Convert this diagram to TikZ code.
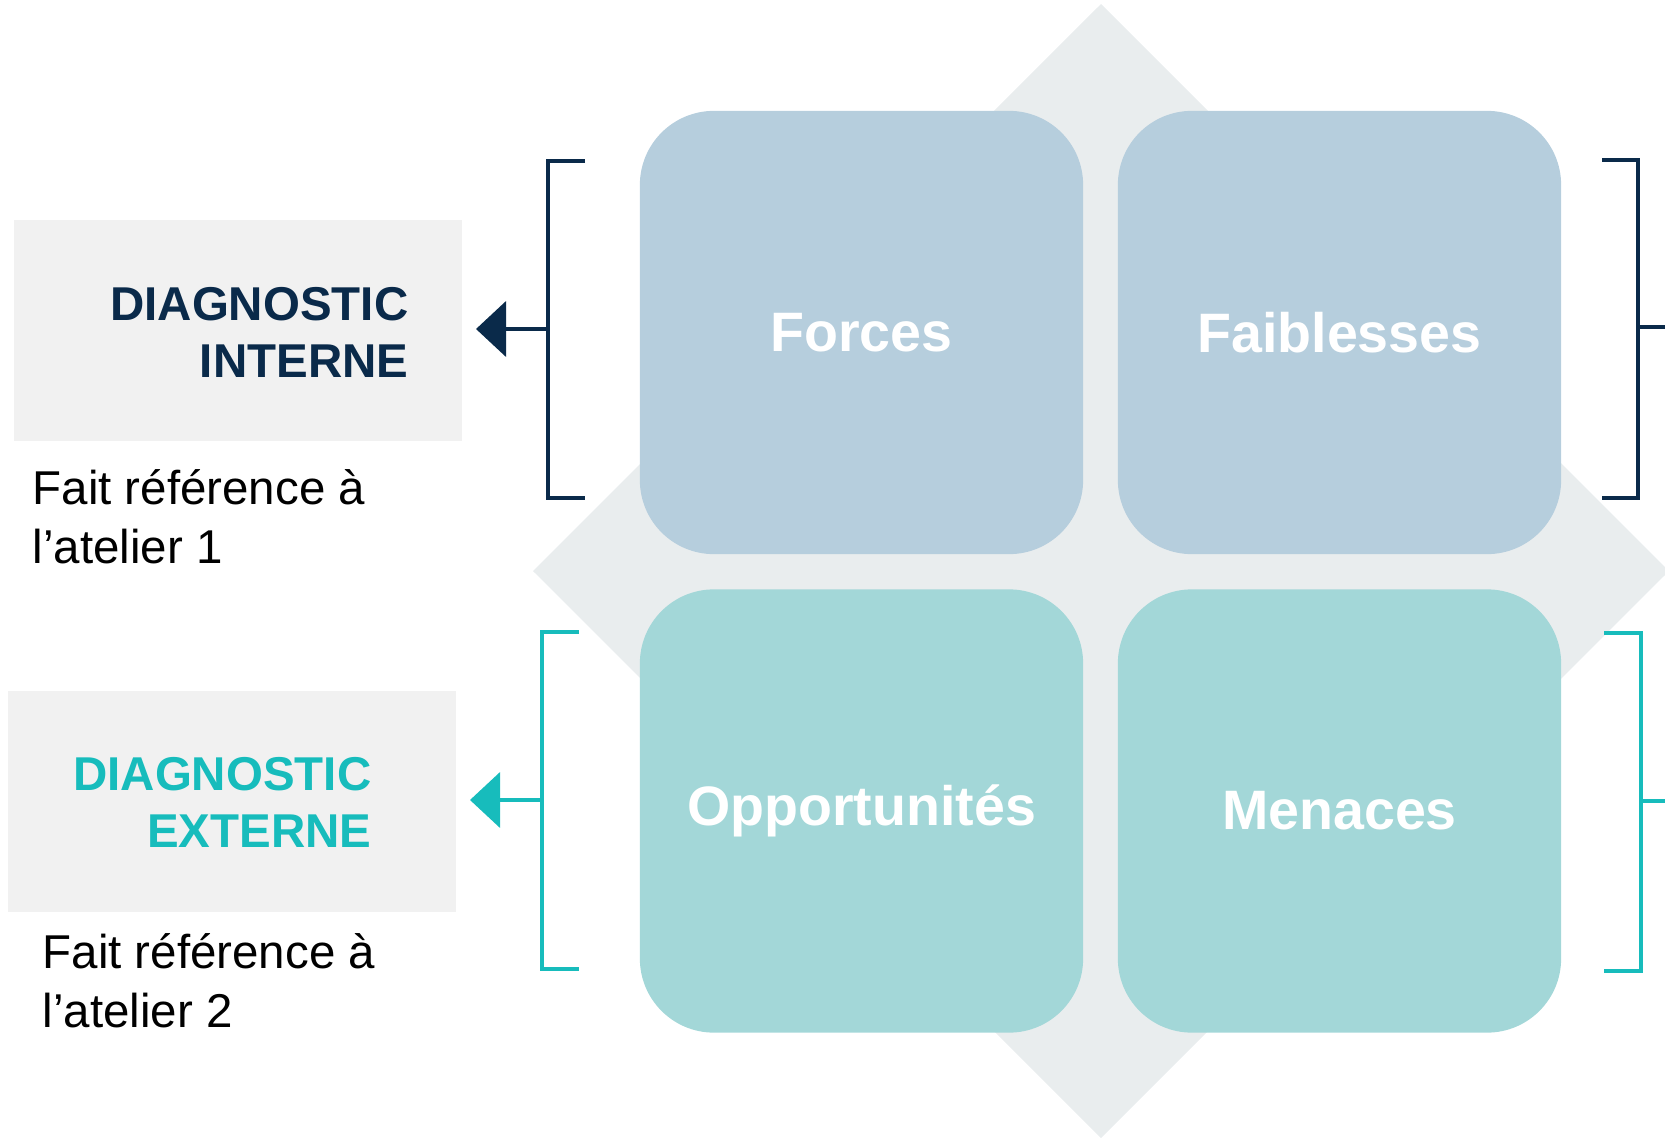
\documentclass[tikz,border=0pt]{standalone}
\usepackage{fontspec}
\setmainfont{Liberation Sans}
\usepackage{xcolor}
\usetikzlibrary{arrows.meta}

\definecolor{navy}{HTML}{0A2A4A}
\definecolor{turq}{HTML}{17BCBC}
\definecolor{paleblue}{HTML}{B6CEDD}
\definecolor{paleturq}{HTML}{A3D7D8}
\definecolor{diamondgrey}{HTML}{E9EDEE}
\definecolor{boxgrey}{HTML}{F1F1F1}

\begin{document}
\begin{tikzpicture}[
    x=0.01cm, y=-0.01cm,
    quad/.style={rounded corners=0.74cm, minimum width=4.43cm, minimum height=4.43cm, inner sep=0pt,
                 text=white, font=\fontsize{15.8}{19}\selectfont\bfseries},
    diagbox/.style={fill=boxgrey, minimum width=4.48cm, minimum height=2.21cm, inner sep=0pt},
    diagtext/.style={anchor=base east, align=right, inner sep=0pt, font=\fontsize{13.5}{16.2}\selectfont\bfseries},
    note/.style={anchor=base west, align=left, inner sep=0pt, font=\fontsize{13.5}{16.5}\selectfont},
    bracket/.style={line width=0.04cm, line join=miter},
    pointer/.style={line width=0.04cm, -{Triangle[length=0.3cm, width=0.55cm, sep=0.06cm]}}
]
\useasboundingbox (0,0) rectangle (1665,1139);

% background diamond
\fill[diamondgrey] (1101,4) -- (1669,571) -- (1101,1138) -- (533,571) -- cycle;

% the four quadrants
\node[quad, fill=paleblue] (forces) at (861.5,332.5) {Forces};
\node[quad, fill=paleblue] (faiblesses) at (1339.5,332.5) {Faiblesses};
\node[quad, fill=paleturq] (opport) at (861.5,811) {Opportunités};
\node[quad, fill=paleturq] (menaces) at (1339.5,811) {Menaces};

% left panels
\node[diagbox] (interne) at (238,330.5) {};
\node[diagtext, text=navy] (interneT) at (409,377) {DIAGNOSTIC\\INTERNE};
\node[note] (note1) at (32,563) {Fait référence à\\l’atelier 1};

\node[diagbox] (externe) at (232,801.5) {};
\node[diagtext, text=turq] (externeT) at (372,847) {DIAGNOSTIC\\EXTERNE};
\node[note] (note2) at (42,1027) {Fait référence à\\l’atelier 2};

% brackets
\coordinate (bl1) at (548,329);
\coordinate (tip1) at (470,329);
\draw[bracket, navy] (585,161) -- (548,161) -- (548,498) -- (585,498);
\draw[pointer, navy] (bl1) -- (tip1);

\coordinate (bl2) at (542,800);
\coordinate (tip2) at (464,800);
\draw[bracket, turq] (579,632) -- (542,632) -- (542,969) -- (579,969);
\draw[pointer, turq] (bl2) -- (tip2);

\coordinate (br1) at (1638,327);
\coordinate (out1) at (1680,327);
\draw[bracket, navy] (1602,160) -- (1638,160) -- (1638,498) -- (1602,498);
\draw[bracket, navy] (br1) -- (out1);

\coordinate (br2) at (1641,801);
\coordinate (out2) at (1680,801);
\draw[bracket, turq] (1604,633) -- (1641,633) -- (1641,971) -- (1604,971);
\draw[bracket, turq] (br2) -- (out2);
\end{tikzpicture}
\end{document}
